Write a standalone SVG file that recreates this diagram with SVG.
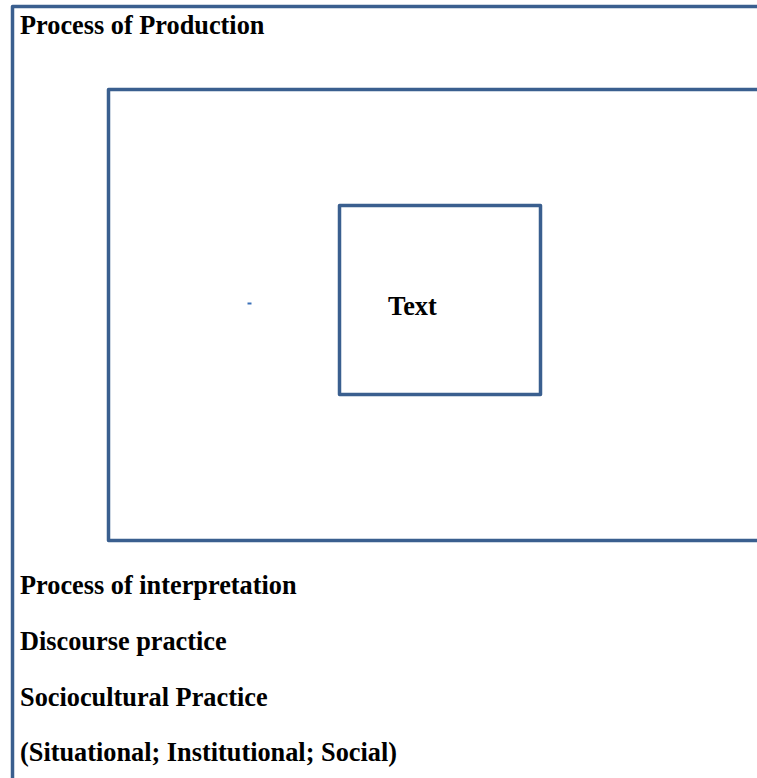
<svg xmlns="http://www.w3.org/2000/svg" width="757" height="778" viewBox="0 0 757 778">
<style>
.box{fill:none;stroke:#3a5f8f;stroke-width:3.5;stroke-linejoin:round}
.t{font-family:"Liberation Serif","Times New Roman",serif;font-weight:bold;font-size:26.3px;fill:#000}
</style>
<rect width="757" height="778" fill="#fff"/>
<g id="outer">
<path class="box" d="M12.5,790 V6.5 H770"/>
<text class="t" x="20" y="33.5">Process of Production</text>
<text class="t" x="20" y="593.5">Process of interpretation</text>
<text class="t" x="20" y="649.5">Discourse practice</text>
<text class="t" x="20" y="705.5">Sociocultural Practice</text>
<text class="t" x="20" y="760.5">(Situational; Institutional; Social)</text>
</g>
<g id="middle">
<path class="box" d="M770,89.5 H108.5 V540.5 H770"/>
<line x1="247.5" y1="303.5" x2="251.5" y2="303.5" stroke="#3a70b8" stroke-width="2"/>
</g>
<g id="inner">
<rect class="box" x="339.5" y="205.5" width="201" height="189"/>
<text class="t" x="388" y="314.5">Text</text>
</g>
<g id="connectors"/>
</svg>
